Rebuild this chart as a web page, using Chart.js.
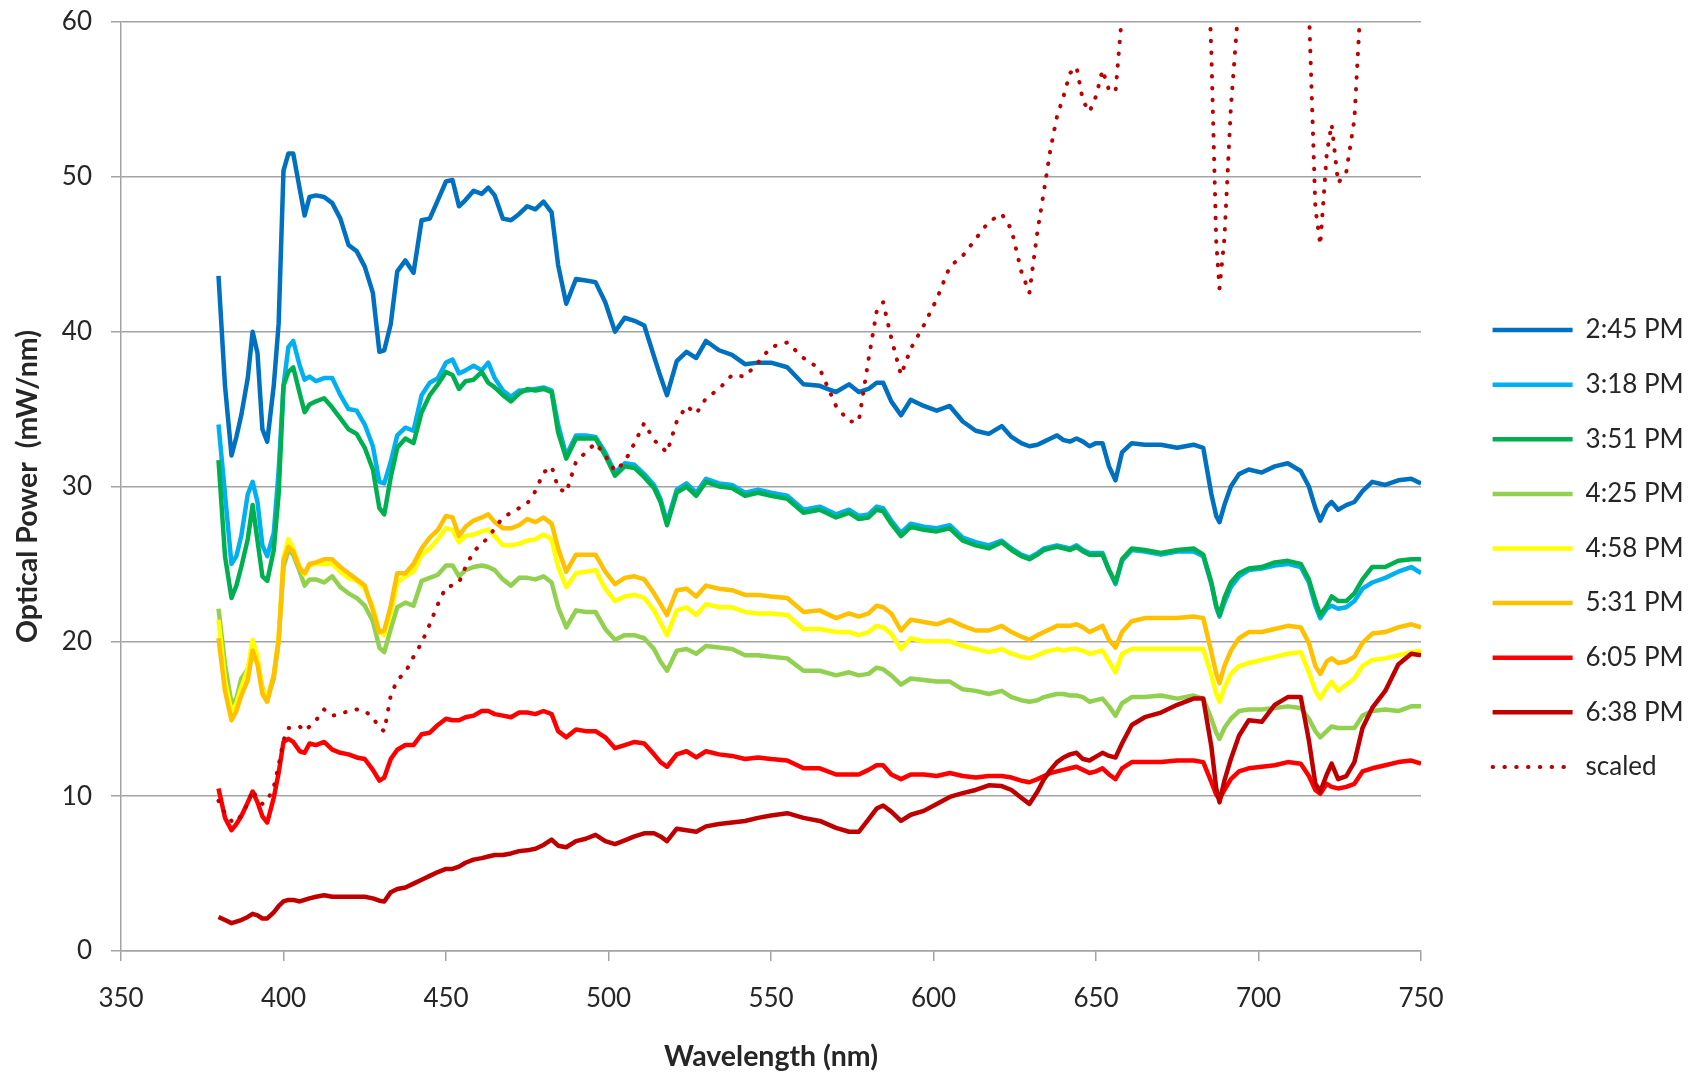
<!DOCTYPE html>
<html>
<head>
<meta charset="utf-8">
<script src="https://cdn.jsdelivr.net/npm/chart.js"></script>
<style>
    html, body { margin: 0; padding: 0; background: #ffffff; }
    canvas { display: block; }
</style>
</head>
<body>
<canvas id="graficoEspectro" width="1700" height="1075"></canvas>
<script>
// longitudes de onda (nm)
const longitudesOnda = [
    380, 382, 384, 385.5, 387, 389, 390.5, 392, 393.5, 395,
    397, 398.5, 400, 401.5, 403, 405, 406.5, 408, 410, 412.5,
    415, 417.5, 420, 422.5, 425, 427.5, 429.5, 431, 433, 435,
    437.5, 440, 442.5, 445, 447.5, 450, 452, 454, 456, 458.5,
    461, 463, 465, 467.5, 470, 472.5, 475, 477.5, 480, 482.5,
    484.5, 487, 490, 493, 496, 499, 502, 505, 508, 511,
    514, 516, 518, 521, 524, 527, 530, 534, 538, 542,
    546, 550, 555, 560, 565, 570, 574, 577, 580, 582.5,
    584.5, 587, 590, 593, 597, 601, 605, 609, 613, 617,
    621, 624, 627, 629.5, 632, 634, 636, 638, 640, 642,
    644, 646, 648, 650, 652, 654, 656, 658, 661, 665,
    670, 675, 680, 683, 685.5, 687, 688, 689.5, 691.5, 694,
    697, 701, 705, 709, 713, 715.5, 717.5, 719, 721, 722.5,
    724.5, 727, 729.5, 732, 735, 739, 743, 747, 750,
];

const potencia245 = [
    43.6, 36.5, 32.0, 33.2, 34.6, 37.0, 40.0, 38.6, 33.7, 32.9,
    36.5, 40.5, 50.4, 51.5, 51.5, 49.2, 47.5, 48.7, 48.8, 48.7,
    48.3, 47.3, 45.6, 45.2, 44.2, 42.5, 38.7, 38.8, 40.5, 43.9,
    44.6, 43.8, 47.2, 47.3, 48.5, 49.7, 49.8, 48.1, 48.5, 49.1,
    48.9, 49.3, 48.8, 47.3, 47.2, 47.6, 48.1, 47.9, 48.4, 47.7,
    44.3, 41.8, 43.4, 43.3, 43.2, 41.9, 40.0, 40.9, 40.7, 40.4,
    38.4, 37.1, 35.9, 38.1, 38.7, 38.3, 39.4, 38.8, 38.5, 37.9,
    38.0, 38.0, 37.7, 36.6, 36.5, 36.1, 36.6, 36.1, 36.3, 36.7,
    36.7, 35.5, 34.6, 35.6, 35.2, 34.9, 35.2, 34.2, 33.6, 33.4,
    33.9, 33.2, 32.8, 32.6, 32.7, 32.9, 33.1, 33.3, 33.0, 32.9,
    33.1, 32.9, 32.6, 32.8, 32.8, 31.3, 30.4, 32.2, 32.8, 32.7,
    32.7, 32.5, 32.7, 32.5, 29.5, 28.1, 27.7, 28.8, 30.0, 30.8,
    31.1, 30.9, 31.3, 31.5, 31.0, 30.0, 28.6, 27.8, 28.7, 29.0,
    28.5, 28.8, 29.0, 29.7, 30.3, 30.1, 30.4, 30.5, 30.2,
];

const potencia318 = [
    34.0, 29.5, 25.0, 25.5, 26.8, 29.5, 30.3, 29.0, 26.2, 25.5,
    27.0, 31.0, 36.5, 39.0, 39.4, 37.8, 36.9, 37.1, 36.8, 37.0,
    37.0, 35.9, 35.0, 34.9, 34.0, 32.6, 30.3, 30.2, 31.6, 33.3,
    33.8, 33.6, 35.9, 36.7, 37.0, 38.0, 38.2, 37.3, 37.5, 37.8,
    37.5, 38.0, 37.0, 36.2, 35.8, 36.2, 36.2, 36.3, 36.4, 36.2,
    34.0, 32.0, 33.3, 33.3, 33.2, 32.2, 30.9, 31.5, 31.4, 30.8,
    30.1, 29.2, 27.7, 29.8, 30.2, 29.6, 30.5, 30.2, 30.1, 29.6,
    29.8, 29.6, 29.4, 28.5, 28.7, 28.2, 28.5, 28.1, 28.2, 28.7,
    28.6, 27.8, 27.0, 27.6, 27.4, 27.3, 27.5, 26.7, 26.4, 26.2,
    26.5, 26.0, 25.6, 25.4, 25.7, 26.0, 26.1, 26.2, 26.1, 26.0,
    26.2, 25.9, 25.7, 25.7, 25.7, 24.6, 23.7, 25.2, 25.9, 25.8,
    25.6, 25.8, 25.8, 25.5, 23.7, 22.2, 21.6, 22.5, 23.5, 24.2,
    24.6, 24.7, 24.9, 25.0, 24.8, 23.8, 22.3, 21.5, 22.1, 22.3,
    22.1, 22.2, 22.6, 23.4, 23.8, 24.1, 24.5, 24.8, 24.4,
];

const potencia351 = [
    31.7, 25.5, 22.8, 23.6, 24.8, 26.6, 28.8, 26.5, 24.2, 23.9,
    25.9, 29.5, 36.5, 37.4, 37.7, 36.0, 34.8, 35.3, 35.5, 35.7,
    35.1, 34.4, 33.7, 33.4, 32.5, 31.1, 28.6, 28.2, 30.6, 32.5,
    33.1, 32.8, 34.8, 35.9, 36.6, 37.4, 37.2, 36.3, 36.8, 36.9,
    37.4, 36.7, 36.4, 35.9, 35.5, 36.0, 36.3, 36.2, 36.3, 36.1,
    33.5, 31.8, 33.1, 33.1, 33.1, 32.0, 30.7, 31.3, 31.2, 30.6,
    29.9, 29.0, 27.5, 29.6, 30.0, 29.4, 30.3, 30.0, 29.9, 29.4,
    29.6, 29.4, 29.2, 28.3, 28.5, 28.0, 28.3, 27.9, 28.0, 28.5,
    28.4, 27.6, 26.8, 27.4, 27.2, 27.1, 27.3, 26.5, 26.2, 26.0,
    26.4, 25.9, 25.5, 25.3, 25.6, 25.9, 26.0, 26.1, 26.0, 25.9,
    26.1, 25.8, 25.6, 25.6, 25.6, 24.6, 23.8, 25.3, 26.0, 25.9,
    25.7, 25.9, 26.0, 25.6, 23.8, 22.3, 21.7, 22.8, 23.8, 24.4,
    24.7, 24.8, 25.1, 25.2, 25.0, 24.0, 22.6, 21.7, 22.3, 22.9,
    22.6, 22.6, 23.1, 24.0, 24.8, 24.8, 25.2, 25.3, 25.3,
];

const potencia425 = [
    22.1, 18.5, 16.0, 16.3, 17.6, 18.2, 19.6, 18.8, 17.0, 16.3,
    17.6, 20.0, 24.8, 25.9, 25.6, 24.5, 23.6, 24.0, 24.0, 23.8,
    24.2, 23.5, 23.1, 22.8, 22.3, 21.3, 19.6, 19.3, 20.8, 22.2,
    22.5, 22.3, 23.9, 24.1, 24.3, 24.9, 24.9, 24.2, 24.6, 24.8,
    24.9, 24.8, 24.6, 24.0, 23.6, 24.1, 24.1, 24.0, 24.2, 23.8,
    22.2, 20.9, 22.0, 21.9, 21.9, 20.8, 20.1, 20.4, 20.4, 20.2,
    19.5, 18.7, 18.1, 19.4, 19.5, 19.2, 19.7, 19.6, 19.5, 19.1,
    19.1, 19.0, 18.9, 18.1, 18.1, 17.8, 18.0, 17.8, 17.9, 18.3,
    18.2, 17.8, 17.2, 17.6, 17.5, 17.4, 17.4, 16.9, 16.8, 16.6,
    16.8, 16.4, 16.2, 16.1, 16.2, 16.4, 16.5, 16.6, 16.6, 16.5,
    16.5, 16.4, 16.1, 16.2, 16.3, 15.8, 15.2, 16.0, 16.4, 16.4,
    16.5, 16.3, 16.5, 16.3, 15.0, 14.1, 13.7, 14.4, 15.0, 15.5,
    15.6, 15.6, 15.7, 15.8, 15.7, 15.0, 14.2, 13.8, 14.2, 14.5,
    14.4, 14.4, 14.4, 15.2, 15.5, 15.6, 15.5, 15.8, 15.8,
];

const potencia458 = [
    21.4, 17.5, 15.4, 16.0, 17.0, 18.2, 20.1, 19.0, 16.9, 16.4,
    17.8, 20.3, 25.4, 26.6, 26.0, 24.8, 24.3, 24.9, 25.0, 25.0,
    25.0, 24.5, 24.1, 23.9, 23.4, 22.2, 20.6, 20.4, 21.8, 23.8,
    24.2, 24.5, 25.6, 26.0, 26.6, 27.3, 27.2, 26.4, 26.8, 26.9,
    27.1, 27.2, 26.8, 26.2, 26.2, 26.3, 26.5, 26.6, 26.9, 26.6,
    24.8, 23.5, 24.4, 24.5, 24.6, 23.4, 22.6, 22.9, 23.0, 22.8,
    22.0, 21.2, 20.4, 22.0, 22.2, 21.7, 22.4, 22.2, 22.2, 21.9,
    21.8, 21.8, 21.7, 20.8, 20.8, 20.6, 20.6, 20.4, 20.6, 21.0,
    20.9, 20.5, 19.5, 20.2, 20.0, 20.0, 20.0, 19.7, 19.5, 19.3,
    19.5, 19.2, 19.0, 18.9, 19.1, 19.3, 19.4, 19.5, 19.4, 19.5,
    19.5, 19.4, 19.2, 19.3, 19.4, 18.7, 18.0, 19.2, 19.5, 19.5,
    19.5, 19.5, 19.5, 19.5, 17.8, 16.6, 16.1, 17.0, 17.9, 18.4,
    18.6, 18.8, 19.0, 19.2, 19.3, 18.0, 16.8, 16.3, 17.0, 17.4,
    16.8, 17.2, 17.6, 18.4, 18.8, 18.9, 19.1, 19.3, 19.4,
];

const potencia531 = [
    20.2, 16.8, 14.9, 15.5, 16.5, 17.5, 19.4, 18.5, 16.6, 16.1,
    17.8, 20.1, 25.2, 26.1, 25.8, 24.7, 24.4, 25.0, 25.1, 25.3,
    25.3, 24.8, 24.4, 24.0, 23.6, 22.0, 20.6, 20.7, 22.3, 24.4,
    24.4, 25.0, 26.0, 26.7, 27.2, 28.1, 28.0, 26.8, 27.4, 27.8,
    28.0, 28.2, 27.7, 27.3, 27.3, 27.5, 27.9, 27.7, 28.0, 27.6,
    26.0, 24.5, 25.6, 25.6, 25.6, 24.5, 23.7, 24.1, 24.2, 24.0,
    23.1, 22.4, 21.7, 23.3, 23.4, 22.9, 23.6, 23.4, 23.3, 23.0,
    23.0, 22.9, 22.8, 21.9, 22.0, 21.5, 21.8, 21.6, 21.8, 22.3,
    22.2, 21.8, 20.7, 21.4, 21.25, 21.1, 21.4, 21.0, 20.7, 20.7,
    21.0, 20.6, 20.3, 20.1, 20.4, 20.6, 20.8, 21.0, 21.0, 21.0,
    21.1, 20.9, 20.6, 20.8, 21.0, 20.1, 19.6, 20.6, 21.3, 21.5,
    21.5, 21.5, 21.6, 21.5, 19.3, 17.9, 17.3, 18.4, 19.4, 20.2,
    20.6, 20.6, 20.8, 21.0, 20.9, 19.9, 18.4, 17.9, 18.7, 18.9,
    18.6, 18.7, 19.0, 19.9, 20.5, 20.6, 20.9, 21.1, 20.9,
];

const potencia605 = [
    10.5, 8.6, 7.8, 8.2, 8.7, 9.6, 10.3, 9.6, 8.7, 8.3,
    9.9, 11.5, 13.5, 13.7, 13.5, 12.9, 12.8, 13.4, 13.3, 13.5,
    13.0, 12.8, 12.7, 12.5, 12.4, 11.7, 11.0, 11.2, 12.4, 13.0,
    13.3, 13.3, 14.0, 14.1, 14.6, 15.0, 14.9, 14.9, 15.1, 15.2,
    15.5, 15.5, 15.3, 15.2, 15.1, 15.4, 15.4, 15.3, 15.5, 15.3,
    14.2, 13.8, 14.3, 14.2, 14.2, 13.8, 13.1, 13.3, 13.5, 13.4,
    12.7, 12.2, 11.9, 12.7, 12.9, 12.5, 12.9, 12.7, 12.6, 12.4,
    12.5, 12.4, 12.3, 11.8, 11.8, 11.4, 11.4, 11.4, 11.7, 12.0,
    12.0, 11.4, 11.1, 11.4, 11.4, 11.3, 11.5, 11.3, 11.2, 11.3,
    11.3, 11.2, 11.0, 10.9, 11.1, 11.3, 11.5, 11.6, 11.7, 11.8,
    11.9, 11.7, 11.5, 11.6, 11.8, 11.4, 11.1, 11.8, 12.2, 12.2,
    12.2, 12.3, 12.3, 12.2, 10.9, 10.1, 9.8, 10.4, 11.1, 11.6,
    11.8, 11.9, 12.0, 12.2, 12.1, 11.3, 10.4, 10.15, 10.8, 10.6,
    10.5, 10.6, 10.8, 11.6, 11.8, 12.0, 12.2, 12.3, 12.1,
];

const potencia638 = [
    2.2, 2.0, 1.8, 1.9, 2.0, 2.2, 2.4, 2.3, 2.1, 2.1,
    2.5, 2.9, 3.2, 3.3, 3.3, 3.2, 3.3, 3.4, 3.5, 3.6,
    3.5, 3.5, 3.5, 3.5, 3.5, 3.4, 3.25, 3.2, 3.8, 4.0,
    4.1, 4.35, 4.6, 4.85, 5.1, 5.3, 5.3, 5.45, 5.7, 5.9,
    6.0, 6.1, 6.2, 6.2, 6.3, 6.45, 6.5, 6.6, 6.85, 7.2,
    6.8, 6.7, 7.1, 7.25, 7.5, 7.1, 6.9, 7.15, 7.4, 7.6,
    7.6, 7.4, 7.1, 7.9, 7.8, 7.7, 8.05, 8.2, 8.3, 8.4,
    8.6, 8.75, 8.9, 8.6, 8.4, 7.95, 7.7, 7.7, 8.5, 9.2,
    9.4, 9.0, 8.4, 8.8, 9.05, 9.5, 9.95, 10.2, 10.4, 10.7,
    10.65, 10.4, 9.9, 9.5, 10.3, 11.1, 11.7, 12.2, 12.5, 12.7,
    12.8, 12.4, 12.3, 12.55, 12.8, 12.6, 12.5, 13.4, 14.6, 15.1,
    15.4, 15.9, 16.3, 16.3, 13.2, 10.5, 9.6, 11.0, 12.4, 13.9,
    14.9, 14.8, 15.9, 16.4, 16.4, 13.6, 10.8, 10.3, 11.4, 12.1,
    11.1, 11.3, 12.2, 14.4, 15.7, 16.8, 18.5, 19.2, 19.1,
];

// serie punteada; por encima de 60 sale del area del grafico
const potenciaEscalada = [
    9.7, 8.9, 8.4, 8.3, 8.8, 9.5, 10.4, 9.8, 9.5, 9.7,
    10.6, 12.0, 13.6, 14.4, 14.4, 14.5, 14.2, 14.5, 14.9, 15.6,
    15.2, 15.3, 15.5, 15.6, 15.5, 15.1, 14.4, 14.2, 16.5, 17.5,
    18.0, 19.0, 19.9, 21.1, 22.4, 23.5, 23.6, 23.8, 24.8, 25.8,
    26.3, 26.7, 27.3, 28.0, 28.3, 28.6, 28.9, 29.7, 30.9, 31.3,
    29.9, 29.6, 31.6, 32.2, 32.8, 32.0, 31.0, 31.6, 32.8, 34.1,
    33.0, 32.6, 32.2, 34.2, 35.2, 34.7, 35.7, 36.3, 37.2, 37.1,
    38.0, 39.0, 39.3, 38.3, 37.6, 35.2, 34.2, 34.2, 38.2, 41.3,
    41.9, 39.6, 37.2, 38.9, 40.4, 42.1, 44.2, 44.9, 46.0, 47.1,
    47.6, 46.6, 43.9, 42.5, 46.5, 49.1, 51.8, 53.9, 55.2, 56.7,
    57.1, 54.9, 54.2, 55.2, 56.9, 55.6, 55.5, 60.5, 64.0, 66.5,
    68.0, 70.0, 72.0, 72.0, 58.0, 45.8, 42.8, 46.0, 54.5, 61.5,
    65.5, 65.0, 70.0, 72.0, 72.0, 61.0, 48.0, 45.6, 51.5, 53.4,
    49.6, 50.3, 53.7, 63.5, 69.0, 74.0, 81.0, 84.0, 84.0,
];

const etiquetasSeries = ["2:45 PM", "3:18 PM", "3:51 PM", "4:25 PM", "4:58 PM", "5:31 PM", "6:05 PM", "6:38 PM", "scaled"];
const valoresSeries = [potencia245, potencia318, potencia351, potencia425, potencia458, potencia531, potencia605, potencia638, potenciaEscalada];

const coloresSeries = ["#0070C0", "#00B0F0", "#00B050", "#92D050", "#FFFF00", "#FFC000", "#FF0000", "#C00000", "#C00000"];
const gris = "#a3a3a3";
const colorTexto = "#262626";
const fuente = "Lato, 'Liberation Sans', sans-serif";

const datasetsEspectro = valoresSeries.map((valores, i) => {
    const punteada = etiquetasSeries[i] === "scaled";
    return {
        label: etiquetasSeries[i],
        data: valores.map((v, j) => ({ x: longitudesOnda[j], y: v })),
        borderColor: coloresSeries[i],
        backgroundColor: coloresSeries[i],
        borderWidth: punteada ? 4 : 4.5,
        borderDash: punteada ? [0.5, 11.3] : [],
        borderCapStyle: punteada ? "round" : "butt",
        borderJoinStyle: "round",
        pointRadius: 0,
        tension: 0,
        // como en Excel: la ultima serie queda encima
        order: valoresSeries.length - i,
    };
});

// ancho fijo de la leyenda
const anchoLeyenda = {
    id: "anchoLeyenda",
    afterInit(chart) {
        const leyenda = chart.legend;
        const fitOriginal = leyenda.fit;
        leyenda.fit = function () {
            fitOriginal.call(this);
            this.width = 236;
        };
    },
};

const configGraficoEspectro = {
    type: "line",
    data: { datasets: datasetsEspectro },
    options: {
        responsive: false,
        animation: false,
        layout: { padding: { top: 22, left: 0, right: 0, bottom: 0 } },
        plugins: {
            tooltip: { enabled: false },
            legend: {
                position: "right",
                align: "center",
                labels: {
                    usePointStyle: true,
                    pointStyle: "line",
                    pointStyleWidth: 80,
                    padding: 28.6,
                    color: colorTexto,
                    font: { family: fuente, size: 26 },
                    sort: (a, b) => a.datasetIndex - b.datasetIndex,
                    generateLabels(chart) {
                        const items = Chart.defaults.plugins.legend.labels.generateLabels(chart);
                        items.forEach((item) => {
                            const ds = chart.data.datasets[item.datasetIndex];
                            item.strokeStyle = ds.borderColor;
                            item.fillStyle = ds.borderColor;
                            item.lineWidth = ds.borderWidth;
                            item.lineDash = ds.borderDash;
                            item.lineCap = ds.borderCapStyle;
                            item.pointStyle = "line";
                        });
                        return items;
                    },
                },
            },
        },
        scales: {
            x: {
                type: "linear",
                min: 350,
                max: 750,
                ticks: { stepSize: 50, padding: 22, color: colorTexto, font: { family: fuente, size: 26 } },
                grid: { drawOnChartArea: false, tickLength: 10, color: gris, lineWidth: 1.5 },
                border: { color: gris, width: 1.5 },
                title: {
                    display: true,
                    text: "Wavelength (nm)",
                    color: colorTexto,
                    font: { family: fuente, size: 28.5, weight: "bold" },
                    padding: { top: 0, bottom: 1 },
                },
                afterFit(scale) { scale.height = 124; },
            },
            y: {
                type: "linear",
                min: 0,
                max: 60,
                ticks: { stepSize: 10, padding: 19, color: colorTexto, font: { family: fuente, size: 26 } },
                grid: { tickLength: 10, color: gris, lineWidth: 1.5 },
                border: { color: gris, width: 1.5 },
                title: {
                    display: true,
                    text: "Optical Power  (mW/nm)",
                    color: colorTexto,
                    font: { family: fuente, size: 28.5, weight: "bold" },
                    padding: { top: 11, bottom: 0 },
                },
                afterFit(scale) {
                    scale.width = 121;
                    // el margen de las etiquetas no debe empujar el area del grafico
                    scale.paddingTop = 0;
                    scale.paddingBottom = 0;
                },
            },
            relleno: {
                axis: "y",
                type: "linear",
                position: "right",
                display: true,
                ticks: { display: false },
                grid: { display: false },
                border: { display: false },
                afterFit(scale) {
                    scale.width = 43;
                    scale.paddingTop = 0;
                    scale.paddingBottom = 0;
                },
            },
        },
    },
    plugins: [anchoLeyenda],
};

const graficoEspectro = new Chart(
    document.getElementById("graficoEspectro"),
    configGraficoEspectro
);
</script>
</body>
</html>
